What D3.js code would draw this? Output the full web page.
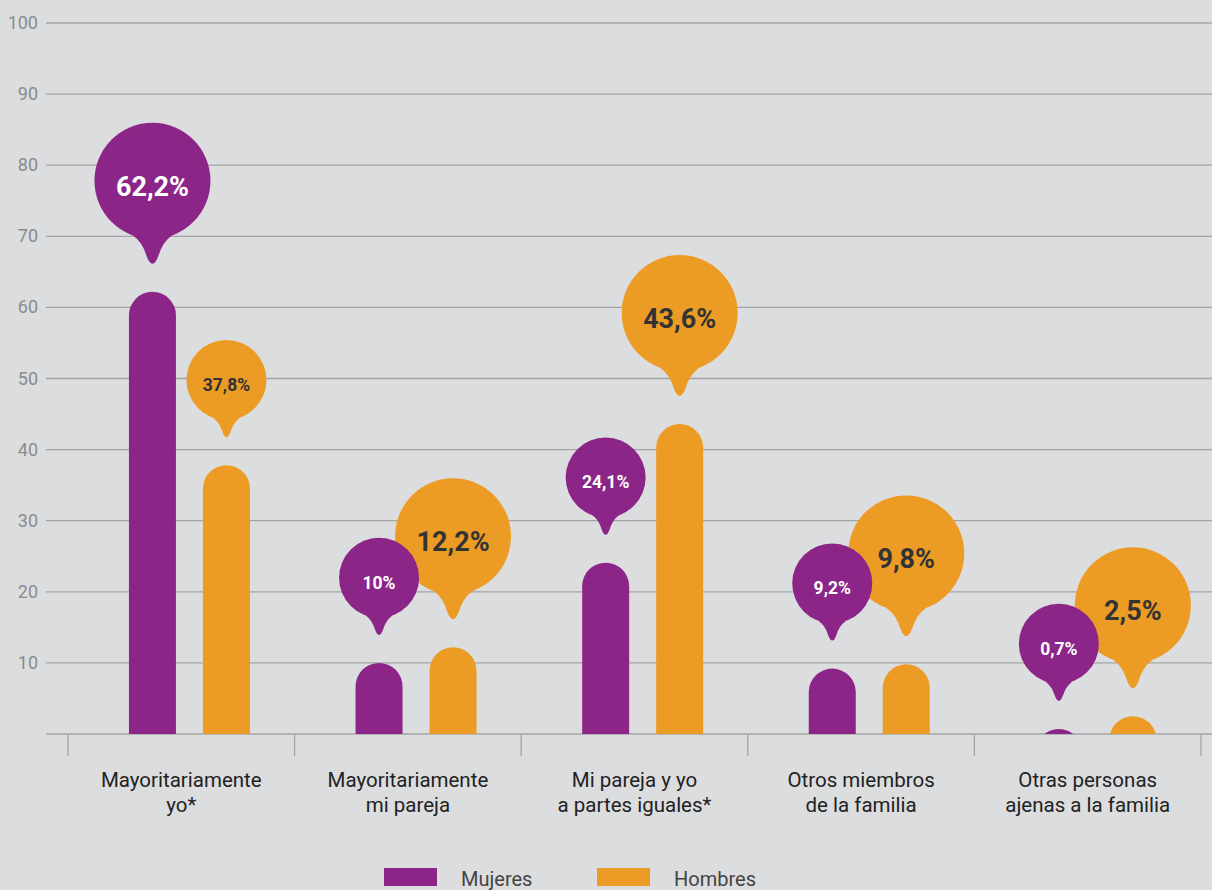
<!DOCTYPE html>
<html>
<head>
<meta charset="utf-8">
<script src="https://cdn.jsdelivr.net/npm/d3@7"></script>
<style>
  html, body { margin: 0; padding: 0; background: #dcdddf; }
  svg { display: block; font-family: Roboto, "Noto Sans", sans-serif; }
</style>
</head>
<body>
<svg id="chart" width="1212" height="890"></svg>
<script>
// data
var categories = [
  ["Mayoritariamente", "yo*"],
  ["Mayoritariamente", "mi pareja"],
  ["Mi pareja y yo", "a partes iguales*"],
  ["Otros miembros", "de la familia"],
  ["Otras personas", "ajenas a la familia"]
];
var series = ["Mujeres", "Hombres"];
var mujeres = [62.2, 10, 24.1, 9.2, 0.7];
var hombres = [37.8, 12.2, 43.6, 9.8, 2.5];
var labelsMujeres = ["62,2%", "10%", "24,1%", "9,2%", "0,7%"];
var labelsHombres = ["37,8%", "12,2%", "43,6%", "9,8%", "2,5%"];
var yTicks = [10, 20, 30, 40, 50, 60, 70, 80, 90, 100];

var colors = { Mujeres: "#8c2588", Hombres: "#ec9c24" };
var textColors = { Mujeres: "#ffffff", Hombres: "#333333" };

var svg = d3.select("#chart");
var W = 1212;

var y = d3.scaleLinear().domain([0, 100]).range([734, 23]);
var x = d3.scaleBand().domain(d3.range(categories.length)).range([68, 1201]).padding(0);
var bw = x.bandwidth();
var xs = d3.scaleBand().domain(series).range([bw * 0.269, bw * 0.803]).paddingInner(0.365);
var barW = xs.bandwidth();

// grid lines + y labels
var grid = svg.append("g");
grid.selectAll("line").data(yTicks).enter().append("line")
  .attr("x1", 46).attr("x2", W)
  .attr("y1", function(d) { return y(d); })
  .attr("y2", function(d) { return y(d); })
  .attr("stroke", "#a3a4a6").attr("stroke-width", 1.3);
grid.selectAll("text").data(yTicks).enter().append("text")
  .attr("x", 38).attr("y", function(d) { return y(d) + 6; })
  .attr("text-anchor", "end")
  .attr("fill", "#8a8b8d").attr("font-size", 18)
  .text(function(d) { return d; });

// baseline axis with tick marks at band edges
svg.append("line").attr("x1", 46).attr("x2", W).attr("y1", y(0)).attr("y2", y(0))
  .attr("stroke", "#a3a4a6").attr("stroke-width", 1.3);
var edges = d3.range(categories.length + 1).map(function(i) { return x.range()[0] + i * x.step(); });
svg.append("g").selectAll("line").data(edges).enter().append("line")
  .attr("x1", function(d) { return d; }).attr("x2", function(d) { return d; })
  .attr("y1", y(0)).attr("y2", y(0) + 22)
  .attr("stroke", "#a3a4a6").attr("stroke-width", 1.3);

// category labels
var xl = svg.append("g").selectAll("text").data(categories).enter().append("text")
  .attr("text-anchor", "middle").attr("fill", "#222").attr("font-size", 20.5);
xl.each(function(d, i) {
  var t = d3.select(this);
  d.forEach(function(line, k) {
    t.append("tspan").attr("x", x(i) + bw / 2).attr("y", 787 + k * 25).text(line);
  });
});

// rows: one entry per bar
var rows = [];
categories.forEach(function(c, i) {
  var pairMax = Math.max(mujeres[i], hombres[i]);
  rows.push({ i: i, s: "Hombres", v: hombres[i], label: labelsHombres[i], big: hombres[i] === pairMax });
  rows.push({ i: i, s: "Mujeres", v: mujeres[i], label: labelsMujeres[i], big: mujeres[i] === pairMax });
});

// bars with rounded tops, clipped at the baseline
svg.append("clipPath").attr("id", "plotclip").append("rect")
  .attr("x", 0).attr("y", 0).attr("width", W).attr("height", y(0));
svg.append("g").attr("clip-path", "url(#plotclip)")
  .selectAll("rect").data(rows).enter().append("rect")
  .attr("x", function(d) { return x(d.i) + xs(d.s); })
  .attr("y", function(d) { return y(d.v); })
  .attr("width", barW)
  .attr("height", function(d) { return y(0) - y(d.v) + barW; })
  .attr("rx", barW / 2)
  .attr("fill", function(d) { return colors[d.s]; });

// pin bubbles
function pinPath(r) {
  var p = function(a, b) { return (a * r).toFixed(2) + "," + (b * r).toFixed(2); };
  return "M" + p(-0.34, 0.94) +
    " Q" + p(-0.17, 1.06) + " " + p(-0.10, 1.30) +
    " Q" + p(0, 1.56) + " " + p(0.10, 1.30) +
    " Q" + p(0.17, 1.06) + " " + p(0.34, 0.94) + " Z";
}

var pins = svg.append("g").selectAll("g").data(rows).enter().append("g")
  .attr("transform", function(d) {
    var r = d.big ? 58 : 40;
    var cx = x(d.i) + xs(d.s) + barW / 2;
    var cy = y(d.v) - 28 - 1.43 * r;
    return "translate(" + cx + "," + cy + ")";
  });
pins.append("circle").attr("r", function(d) { return d.big ? 58 : 40; })
  .attr("fill", function(d) { return colors[d.s]; });
pins.append("path").attr("d", function(d) { return pinPath(d.big ? 58 : 40); })
  .attr("fill", function(d) { return colors[d.s]; });
pins.append("text")
  .attr("text-anchor", "middle")
  .attr("y", function(d) { return d.big ? 15 : 11; })
  .attr("font-weight", "bold")
  .attr("font-size", function(d) { return d.big ? 27 : 17.5; })
  .attr("fill", function(d) { return textColors[d.s]; })
  .text(function(d) { return d.label; });

// legend
var legX = [384, 597];
var leg = svg.append("g").selectAll("g").data(series).enter().append("g")
  .attr("transform", function(d, i) { return "translate(" + legX[i] + ",868)"; });
leg.append("rect").attr("width", 53).attr("height", 18)
  .attr("fill", function(d) { return colors[d]; });
leg.append("text").attr("x", 77).attr("y", 18)
  .attr("fill", "#444").attr("font-size", 20)
  .text(function(d) { return d; });
</script>
</body>
</html>
